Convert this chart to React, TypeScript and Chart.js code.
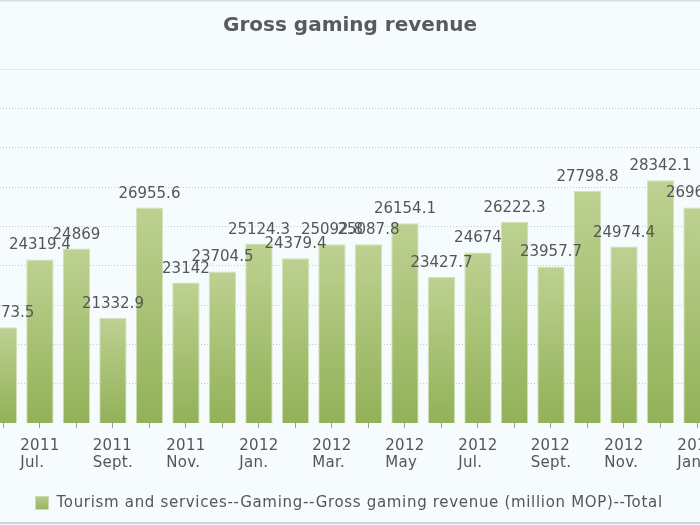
import React, { useEffect, useRef } from 'react';
import { Chart, registerables } from 'chart.js';

Chart.register(...registerables);

const TITLE = 'Gross gaming revenue';
const SERIES_NAME = 'Tourism and services--Gaming--Gross gaming revenue (million MOP)--Total';

const YEARS = ['2011', '2011', '2011', '2011', '2011', '2011', '2011', '2012', '2012', '2012', '2012', '2012', '2012', '2012', '2012', '2012', '2012', '2012', '2012', '2013'];
const MONTHS = ['Jun.', 'Jul.', 'Aug.', 'Sept.', 'Oct.', 'Nov.', 'Dec.', 'Jan.', 'Feb.', 'Mar.', 'Apr.', 'May', 'Jun.', 'Jul.', 'Aug.', 'Sept.', 'Oct.', 'Nov.', 'Dec.', 'Jan.'];
const VALUES = [20873.5, 24319.4, 24869, 21332.9, 26955.6, 23142, 23704.5, 25124.3, 24379.4, 25092.8, 25087.8, 26154.1, 23427.7, 24674, 26222.3, 23957.7, 27798.8, 24974.4, 28342.1, 26963.5];

const Y_MIN = 16000;
const Y_MAX = 34000;
const Y_STEP = 2000;
// visible window of the (scrolled) category axis
const X_MIN = -0.093;
const X_MAX = 19.082;

const FONT = '"DejaVu Sans", Verdana, sans-serif';
const BG = '#f6fbfd';
const TEXT = '#555555';
const BAR_TOP = '#bdd191';
const BAR_BOTTOM = '#92b158';
const BAR_BORDER = '#d3e2b9';
const LEGEND_FILL_TOP = '#b4cb85';
const LEGEND_FILL_BOTTOM = '#97b45e';

const decorPlugin = {
  id: 'decor',
  beforeDraw(chart: any) {
    const { ctx, width, height } = chart;
    ctx.save();
    ctx.fillStyle = BG;
    ctx.fillRect(0, 0, width, height);
    ctx.restore();
  },
  afterDatasetsDraw(chart: any) {
    const { ctx } = chart;
    const meta = chart.getDatasetMeta(0);
    ctx.save();
    ctx.font = '15px ' + FONT;
    ctx.fillStyle = TEXT;
    ctx.textAlign = 'center';
    ctx.textBaseline = 'alphabetic';
    meta.data.forEach((el: any, i: number) => {
      ctx.fillText(String(VALUES[i]), el.x, el.y - 10);
    });
    ctx.restore();
  },
  afterDraw(chart: any) {
    const { ctx, chartArea, width, height } = chart;
    const xs = chart.scales.x;
    ctx.save();
    // x category labels (two lines, left-aligned block centred on the bar)
    ctx.font = '15px ' + FONT;
    ctx.fillStyle = TEXT;
    ctx.textAlign = 'left';
    ctx.textBaseline = 'alphabetic';
    (ctx as any).letterSpacing = '0.3px';
    YEARS.forEach((yr, i) => {
      if (i % 2 !== 1) return;
      const x = xs.getPixelForValue(i);
      const w = Math.max(ctx.measureText(yr).width, ctx.measureText(MONTHS[i]).width);
      const left = x - w / 2;
      ctx.fillText(yr, left, chartArea.bottom + 27);
      ctx.fillText(MONTHS[i], left, chartArea.bottom + 44);
    });
    // legend
    (ctx as any).letterSpacing = '0.68px';
    const tw = ctx.measureText(SERIES_NAME).width;
    const box = 14;
    const gap = 7.5;
    const total = box + gap + tw;
    const lx = Math.round((width - total) / 2) - 1;
    const by = height - 29;
    const g = ctx.createLinearGradient(0, by, 0, by + box);
    g.addColorStop(0, LEGEND_FILL_TOP);
    g.addColorStop(1, LEGEND_FILL_BOTTOM);
    ctx.fillStyle = g;
    ctx.fillRect(lx, by, box, box);
    ctx.strokeStyle = '#cddcb0';
    ctx.lineWidth = 1;
    ctx.strokeRect(lx + 0.5, by + 0.5, box - 1, box - 1);
    ctx.fillStyle = TEXT;
    ctx.fillText(SERIES_NAME, lx + box + gap, height - 18);
    (ctx as any).letterSpacing = '0px';
    // frame lines
    ctx.fillStyle = '#d3dfe4';
    ctx.fillRect(0, 0, width, 1.5);
    ctx.fillStyle = '#cbd5d9';
    ctx.fillRect(0, height - 3, width, 2);
    ctx.restore();
  },
};

function barGradient(c: any) {
  const chart = c.chart;
  const area = chart.chartArea;
  if (!area || c.type !== 'data') return '#a8c273';
  const ys = chart.scales.y;
  const v = c.parsed ? c.parsed.y : VALUES[c.dataIndex];
  const top = ys.getPixelForValue(v);
  const bottom = ys.getPixelForValue(Y_MIN);
  if (!isFinite(top) || !isFinite(bottom) || bottom - top < 1) return '#a8c273';
  const g = chart.ctx.createLinearGradient(0, top, 0, bottom);
  g.addColorStop(0, BAR_TOP);
  g.addColorStop(1, BAR_BOTTOM);
  return g;
}

export default function App() {
  const ref = useRef<HTMLCanvasElement>(null);

  useEffect(() => {
    if (!ref.current) return;
    const chart = new Chart(ref.current, {
      type: 'bar',
      data: {
        datasets: [
          {
            label: SERIES_NAME,
            data: VALUES.map((v, i) => ({ x: i, y: v })),
            backgroundColor: barGradient,
            borderColor: BAR_BORDER,
            borderWidth: 1,
            categoryPercentage: 1,
            barPercentage: 0.75,
          } as any,
        ],
      },
      options: {
        responsive: false,
        animation: false,
        devicePixelRatio: 1,
        layout: { padding: { left: 0, right: 0, top: 0, bottom: 40 } },
        plugins: {
          title: {
            display: true,
            text: TITLE,
            color: '#5a5a5a',
            font: { family: FONT, size: 20, weight: 'bold' },
            padding: { top: 14, bottom: 31 },
          },
          legend: { display: false },
          tooltip: { enabled: false },
        },
        scales: {
          x: {
            type: 'linear',
            min: X_MIN,
            max: X_MAX,
            offset: false,
            afterBuildTicks: (s: any) => {
              s.ticks = VALUES.map((_, i) => ({ value: i + 0.5 })).filter((t) => t.value <= X_MAX);
            },
            ticks: { display: false },
            grid: {
              drawOnChartArea: false,
              drawTicks: true,
              tickLength: 5,
              tickColor: '#9c9c9c',
              tickWidth: 1,
            },
            border: { display: false },
            afterFit: (s: any) => {
              s.height = 62;
            },
          },
          y: {
            min: Y_MIN,
            max: Y_MAX,
            ticks: { display: false, stepSize: Y_STEP },
            grid: {
              drawTicks: false,
              color: (c: any) =>
                c.tick && c.tick.value === Y_MAX
                  ? '#e3eaed'
                  : c.tick && c.tick.value === Y_MIN
                  ? 'rgba(0,0,0,0)'
                  : '#c4c9cc',
            },
            border: {
              display: false,
              dash: (c: any) => (c.tick && c.tick.value === Y_MAX ? [] : [1, 2]),
            },
            afterFit: (s: any) => {
              s.width = 0;
            },
          },
        },
      } as any,
      plugins: [decorPlugin],
    });
    return () => chart.destroy();
  }, []);

  return (
    <div style={{ position: 'absolute', left: 0, top: 0, width: 700, height: 525 }}>
      <canvas ref={ref} width={700} height={525} style={{ display: 'block' }} />
    </div>
  );
}
